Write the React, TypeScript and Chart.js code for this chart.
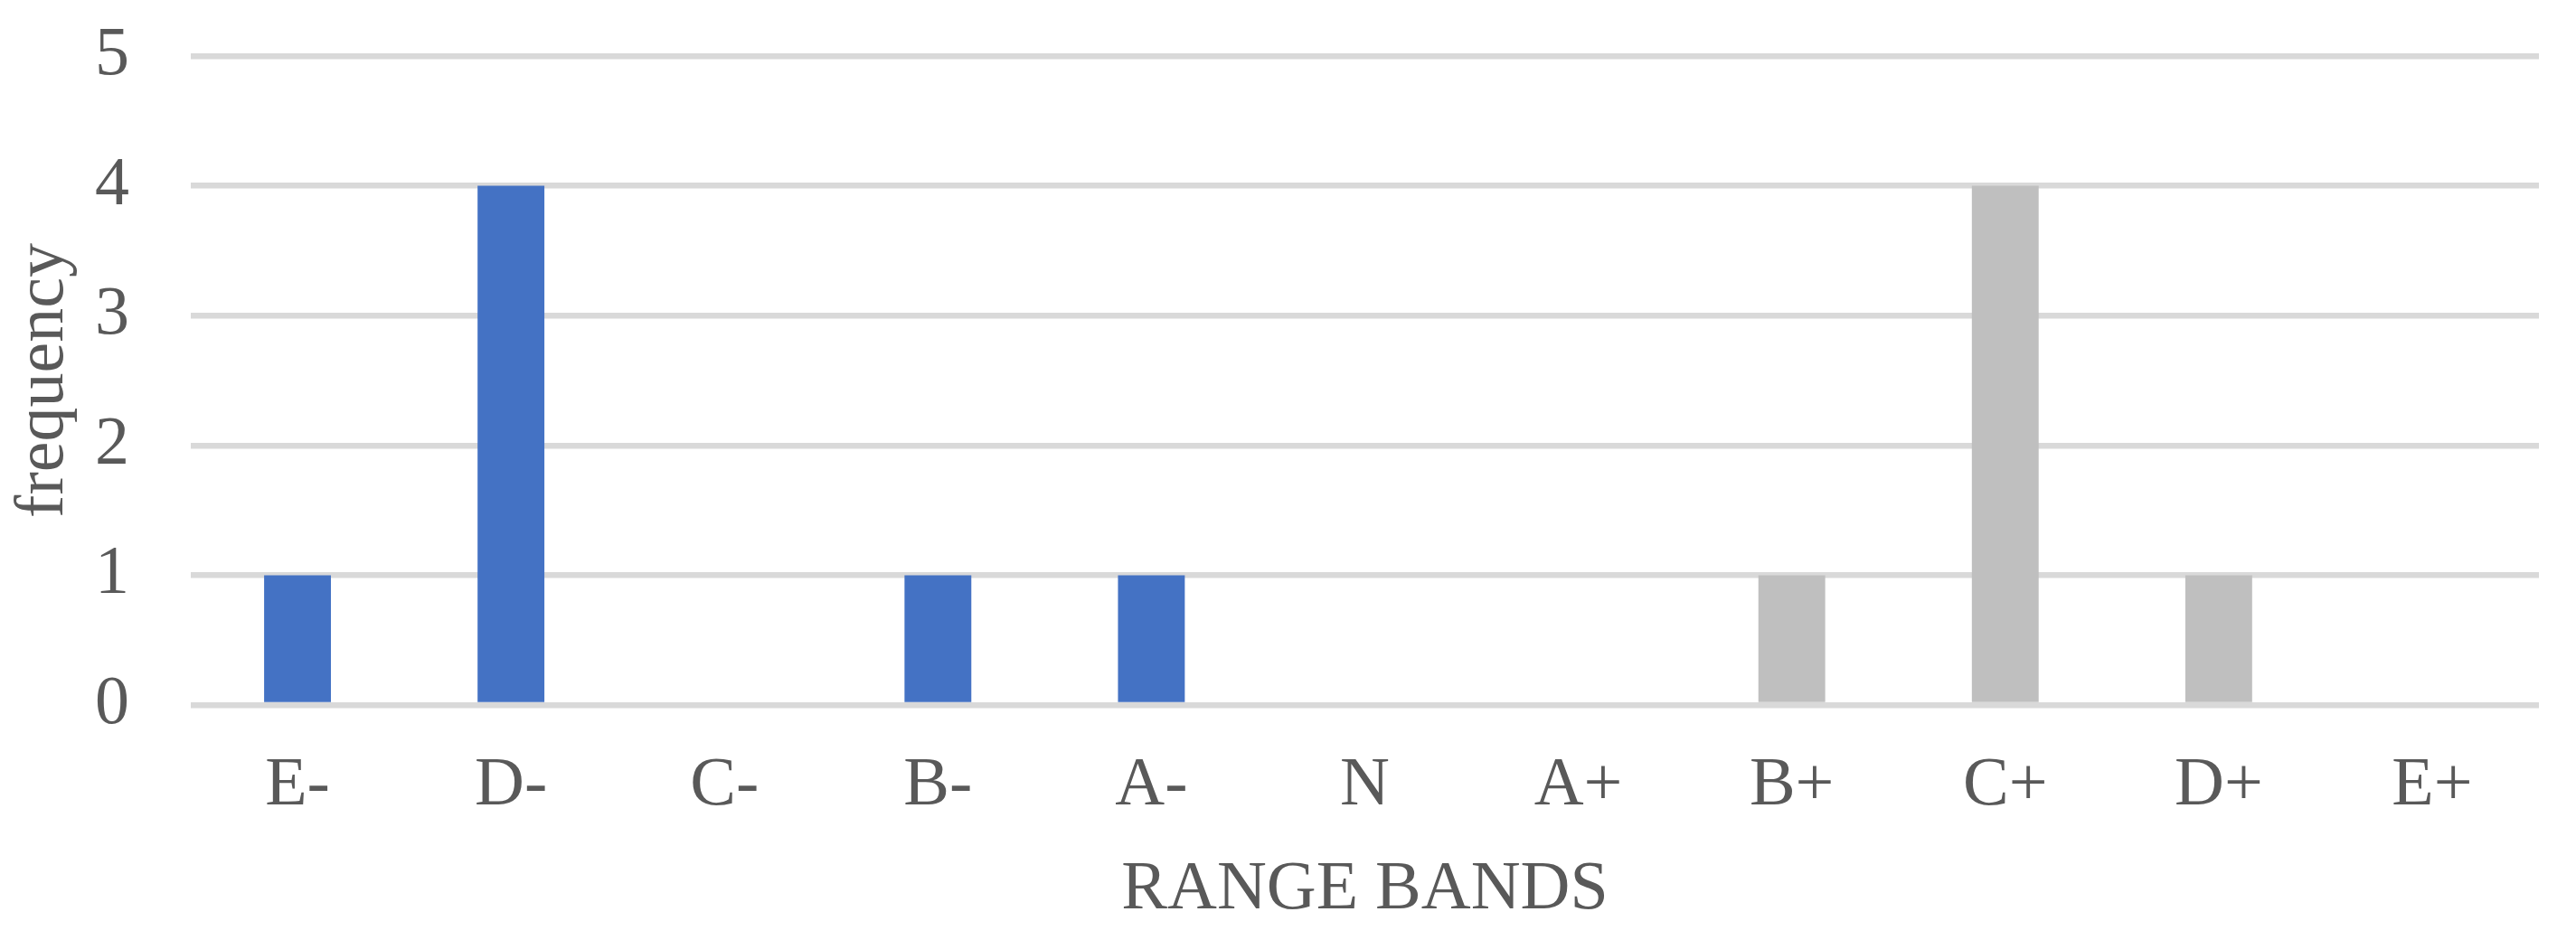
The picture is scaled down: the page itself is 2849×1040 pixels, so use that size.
import React, { useEffect, useRef } from "react";
import { Chart, registerables } from "chart.js";

Chart.register(...registerables);

const categories = ["E-", "D-", "C-", "B-", "A-", "N", "A+", "B+", "C+", "D+", "E+"];
const frequency = [1, 4, 0, 1, 1, 0, 0, 1, 4, 1, 0];
const yTicks = [0, 1, 2, 3, 4, 5];
const xTitle = "RANGE BANDS";
const yTitle = "frequency";

const BLUE = "#4472C4";
const GREY = "#BFBFBF";
const GRID = "#D9D9D9";
const TEXT = "#595959";
const FONT = "'Liberation Serif', 'Times New Roman', serif";

export default function App() {
  const ref = useRef<HTMLCanvasElement | null>(null);

  useEffect(() => {
    if (!ref.current) return;
    const chart = new Chart(ref.current, {
      type: "bar",
      data: {
        labels: categories,
        datasets: [
          {
            label: yTitle,
            data: frequency,
            backgroundColor: (ctx: any) =>
              String(categories[ctx.dataIndex]).endsWith("+") ? GREY : BLUE,
            borderWidth: 0,
            categoryPercentage: 1,
            barPercentage: 0.313,
          },
        ],
      },
      options: {
        responsive: false,
        animation: false,
        devicePixelRatio: 1,
        layout: { padding: { top: 62, right: 41, left: 0, bottom: 0 } },
        plugins: {
          legend: { display: false },
          tooltip: { enabled: false },
        },
        scales: {
          x: {
            grid: { display: false, drawTicks: false },
            border: { display: false },
            ticks: {
              color: TEXT,
              font: { family: FONT, size: 76 },
              padding: 44,
              maxRotation: 0,
              autoSkip: false,
            },
            title: {
              display: true,
              text: xTitle,
              color: TEXT,
              font: { family: FONT, size: 76 },
              padding: { top: 0, bottom: 9 },
            },
            afterFit: (scale: any) => {
              scale.height = 260;
            },
          },
          y: {
            min: 0,
            max: 5,
            grid: { color: GRID, lineWidth: 6.5, drawTicks: false },
            border: { display: false },
            ticks: {
              color: TEXT,
              font: { family: FONT, size: 76 },
              padding: 68,
              stepSize: 1,
              callback: (v: any) => (yTicks.includes(Number(v)) ? String(v) : ""),
            },
            title: {
              display: true,
              text: yTitle,
              color: TEXT,
              font: { family: FONT, size: 76 },
              padding: { top: 3, bottom: 0 },
            },
            afterFit: (scale: any) => {
              scale.width = 211;
              scale.paddingTop = 0;
              scale.paddingBottom = 0;
            },
          },
        },
      },
    });
    return () => chart.destroy();
  }, []);

  return (
    <div style={{ position: "fixed", left: 0, top: 0, width: 2849, height: 1040, background: "#fff" }}>
      <canvas ref={ref} width={2849} height={1040} style={{ width: 2849, height: 1040, display: "block" }} />
    </div>
  );
}
